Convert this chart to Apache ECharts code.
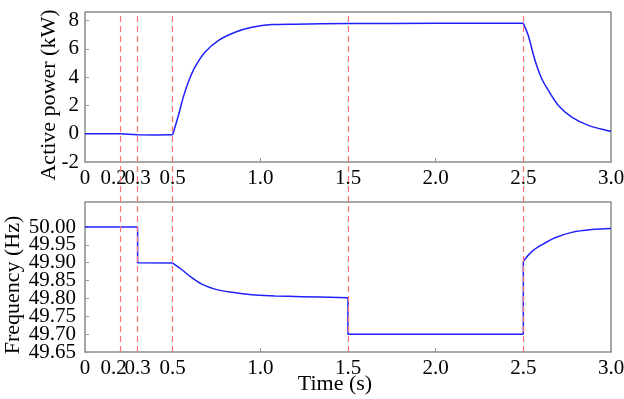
<!DOCTYPE html>
<html>
<head>
<meta charset="utf-8">
<script src="https://cdn.jsdelivr.net/npm/echarts@6/dist/echarts.min.js"></script>
<style>
  html, body { margin: 0; padding: 0; background: #fff; }
  #chart { width: 624px; height: 399px; }
</style>
</head>
<body>
<div id="chart"></div>
<script>
// time marks where something happens (red dashed lines)
const eventTimes = [0.2, 0.3, 0.5, 1.5, 2.5];

const xTicks = [0, 0.2, 0.3, 0.5, 1.0, 1.5, 2.0, 2.5, 3.0];
const powerTicks = [-2, 0, 2, 4, 6, 8];
const freqTicks = [49.65, 49.70, 49.75, 49.80, 49.85, 49.90, 49.95, 50.00];

// active power, kW (split where the curve has a corner)
const powerFlatTime = [0, 0.2, 0.202, 0.3, 0.4, 0.5];
const powerFlatValue = [0.0, 0.0, -0.1, -0.08, -0.1, -0.07];
const powerRiseTime = [0.5, 0.532, 0.561, 0.589, 0.627, 0.684, 0.76, 0.856, 0.951, 1.065, 1.2, 1.5, 2.0, 2.5];
const powerRiseValue = [-0.07, 1.25, 2.6, 3.64, 4.7, 5.76, 6.58, 7.17, 7.52, 7.71, 7.74, 7.78, 7.8, 7.8];
const powerFallTime = [2.5, 2.528, 2.567, 2.605, 2.643, 2.7, 2.776, 2.871, 2.994, 3.0];
const powerFallValue = [7.8, 6.94, 5.17, 3.88, 3.06, 2.0, 1.17, 0.59, 0.18, 0.17];

// frequency, Hz
const freqStepTime = [0, 0.3, 0.3, 0.5];
const freqStepValue = [50.0, 50.0, 49.9, 49.899];
const freqFallTime = [0.5, 0.551, 0.609, 0.666, 0.741, 0.837, 0.951, 1.084, 1.236, 1.5];
const freqFallValue = [49.899, 49.881, 49.858, 49.840, 49.826, 49.817, 49.810, 49.807, 49.805, 49.802];
const freqLowTime = [1.5, 1.5, 2.5, 2.5];
const freqLowValue = [49.802, 49.70, 49.70, 49.904];
const freqRiseTime = [2.5, 2.548, 2.605, 2.681, 2.776, 2.89, 3.0];
const freqRiseValue = [49.904, 49.931, 49.950, 49.970, 49.985, 49.993, 49.996];

const font = 'Liberation Serif, Times New Roman, serif';
const blue = '#2020ff';
const boxGray = '#8c8c8c';

const zip = (xs, ys) => xs.map((x, i) => [x, ys[i]]);

// frequency labels are packed tight, so they are split over two stacked axes
// (every other label on each) to keep echarts from dropping any of them
const freqLabelsA = freqTicks.filter((v, i) => i % 2 === 0);
const freqLabelsB = freqTicks.filter((v, i) => i % 2 === 1);

const xLabelFmt = v => {
  const s = v === 0 ? '0' : v.toFixed(1);
  return v === 0.2 ? '{l|' + s + '}' : s;
};

const makeX = (gridIndex, extra) => Object.assign({
  gridIndex: gridIndex,
  type: 'value',
  min: 0,
  max: 3,
  axisLine: { show: false, onZero: false },
  splitLine: { show: false },
  axisTick: { inside: true, length: 4, customValues: xTicks, lineStyle: { color: '#999' } },
  axisLabel: {
    customValues: xTicks,
    formatter: xLabelFmt,
    showMinLabel: true, showMaxLabel: true, hideOverlap: false,
    fontFamily: font, fontSize: 21, color: '#000', margin: 6,
    rich: { l: { fontFamily: font, fontSize: 21, color: '#000', padding: [0, 13, 0, 0] } }
  }
}, extra || {});

const freqLabelAxis = (labels, extra) => Object.assign({
  gridIndex: 1, type: 'value', min: 49.65, max: 50.07,
  position: 'left', offset: 0,
  axisLine: { show: false },
  splitLine: { show: false },
  axisTick: { show: false },
  axisLabel: {
    customValues: labels, formatter: v => v.toFixed(2),
    showMinLabel: true, showMaxLabel: true,
    fontFamily: font, fontSize: 21, color: '#000', margin: 9
  }
}, extra || {});

const curve = (xi, yi, times, values, smooth) => ({
  type: 'line', xAxisIndex: xi, yAxisIndex: yi,
  data: zip(times, values),
  smooth: smooth ? 0.35 : false,
  showSymbol: false, symbol: 'none', z: 3,
  lineStyle: { color: blue, width: 1.5 }
});

const chart = echarts.init(document.getElementById('chart'));
const option = {
  animation: false,
  grid: [
    { left: 85, right: 13, top: 12, height: 150, show: true, borderColor: boxGray, borderWidth: 1.5, outerBoundsMode: 'none' },
    { left: 85, right: 13, top: 202, height: 150, show: true, borderColor: boxGray, borderWidth: 1.5, outerBoundsMode: 'none' },
    { left: 85, right: 13, top: 12, bottom: 47, outerBoundsMode: 'none' }
  ],
  xAxis: [
    makeX(0),
    makeX(1, {
      name: 'Time (s)', nameLocation: 'middle', nameGap: 21, nameMoveOverlap: false,
      nameTextStyle: { fontFamily: font, fontSize: 22, color: '#000', padding: [0, 26, 0, 0] }
    }),
    { gridIndex: 2, type: 'value', min: 0, max: 3, show: false }
  ],
  yAxis: [
    {
      gridIndex: 0, type: 'value', min: -2, max: 8.6,
      name: 'Active power (kW)', nameLocation: 'middle', nameGap: 25, nameMoveOverlap: false,
      nameTextStyle: { fontFamily: font, fontSize: 22, color: '#000', padding: [0, 16, 0, 0] },
      axisLine: { show: false },
      splitLine: { show: false },
      axisTick: { inside: true, length: 4, customValues: powerTicks, lineStyle: { color: '#999' } },
      axisLabel: { customValues: powerTicks, showMinLabel: true, showMaxLabel: true, fontFamily: font, fontSize: 21, color: '#000', margin: 6 }
    },
    freqLabelAxis(freqLabelsA, {
      name: 'Frequency (Hz)', nameLocation: 'middle', nameGap: 61, nameMoveOverlap: false,
      nameTextStyle: { fontFamily: font, fontSize: 22, color: '#000', padding: [0, 16, 0, 0] },
      axisTick: { inside: true, length: 4, customValues: freqTicks, lineStyle: { color: '#999' } }
    }),
    { gridIndex: 2, type: 'value', min: 0, max: 1, show: false },
    freqLabelAxis(freqLabelsB)
  ],
  series: [
    {
      type: 'line', xAxisIndex: 2, yAxisIndex: 2,
      data: eventTimes.map(t => [t, 0]),
      symbol: 'none', lineStyle: { opacity: 0 }, silent: true, z: 1,
      markLine: {
        symbol: 'none', silent: true,
        label: { show: false },
        lineStyle: { color: '#ff7373', type: [6, 4], width: 1.2 },
        data: eventTimes.map(t => ({ xAxis: t }))
      }
    },
    curve(0, 0, powerFlatTime, powerFlatValue, false),
    curve(0, 0, powerRiseTime, powerRiseValue, true),
    curve(0, 0, powerFallTime, powerFallValue, true),
    curve(1, 1, freqStepTime, freqStepValue, false),
    curve(1, 1, freqFallTime, freqFallValue, true),
    curve(1, 1, freqLowTime, freqLowValue, false),
    curve(1, 1, freqRiseTime, freqRiseValue, true)
  ]
};
chart.setOption(option);
</script>
</body>
</html>
